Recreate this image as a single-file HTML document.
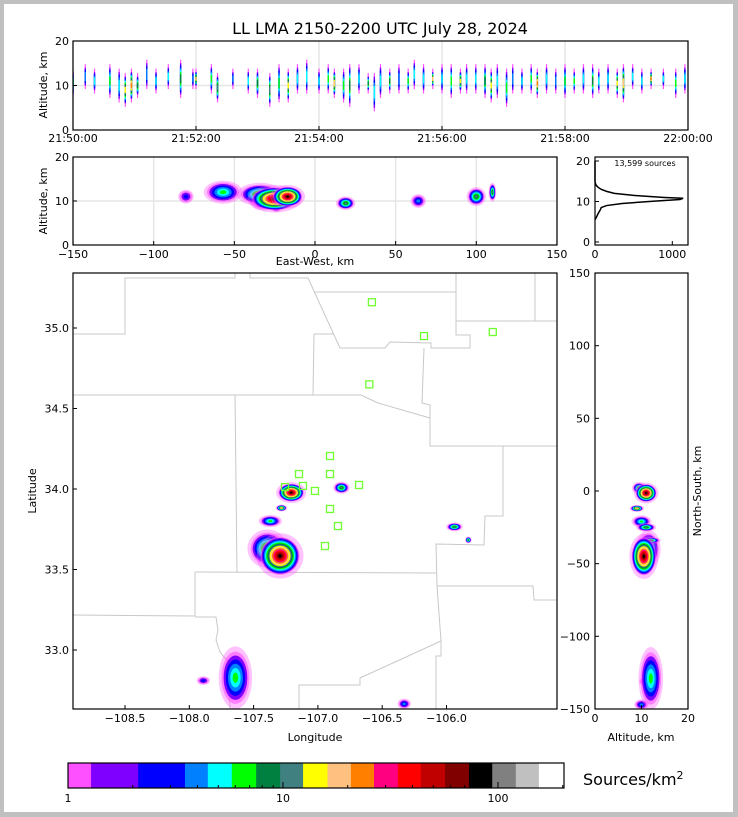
<!DOCTYPE html>
<html><head><meta charset="utf-8"><style>
html,body{margin:0;padding:0;background:#c0c0c0}
svg{display:block}
text{font-family:"DejaVu Sans","Liberation Sans",sans-serif;fill:#000}
</style></head><body>
<svg id="s" width="738" height="817" viewBox="0 0 738 817" xmlns="http://www.w3.org/2000/svg">
<rect x="4" y="4" width="729" height="808" fill="#fff"/>
<text x="380" y="34" font-size="16" text-anchor="middle">LL LMA 2150-2200 UTC July 28, 2024</text>
<g id="layer"></g>
</svg>
<script>
// ---- data ----
const levelColors=['#ff50ff','#8000ff','#0000ff','#0080ff','#00ffff','#00ff00','#008040','#408080','#ffff00','#ffc080','#ff8000','#ff0080','#ff0000','#c00000','#800000','#000000','#808080','#c0c0c0','#ffffff'];
const cbBounds=[1,1.28,2.12,3.5,4.47,5.78,7.5,9.7,12.4,16.1,20.7,26.5,34.2,43.7,56.7,73.3,94,121,155,202];
const cbTicks=[1,10,100];
// time streaks: minute after 21:50, alt low, alt high, peak level
const streakMin=[0.0,0.2,0.35,0.6,0.75,0.85,0.95,1.05,1.2,1.35,1.55,1.75,1.95,2.0,2.25,2.35,2.6,2.85,3.0,3.2,3.35,3.5,3.65,3.8,4.0,4.15,4.25,4.4,4.5,4.65,4.8,4.9,5.0,5.15,5.3,5.45,5.55,5.7,5.85,6.0,6.15,6.3,6.4,6.55,6.7,6.8,6.9,7.05,7.15,7.3,7.45,7.55,7.7,7.85,8.0,8.15,8.3,8.45,8.55,8.7,8.85,8.95,9.1,9.25,9.4,9.6,9.8,9.95];
const streakLo=[8,10,9,8,7,6,7,8,10,9,10,8,10,10,9,7,10,9,8,6,7,7,9,9,9,9,8,7,6,9,9,5,8,9,9,9,10,9,10,9,8,9,9,9,8,7,8,6,9,9,9,8,9,9,8,9,9,8,9,9,8,7,10,9,10,10,8,9];
const streakHi=[13,14,13,14,13,12,13,12,15,13,14,15,13,13,14,12,13,13,13,12,14,13,14,15,13,14,13,13,14,14,12,12,14,13,14,13,15,14,13,14,14,13,14,14,14,13,14,13,14,13,14,13,14,13,14,13,14,14,13,14,13,14,14,13,13,13,13,14];
const streakPeak=[5,3,4,5,4,8,10,6,3,4,4,6,3,9,5,7,3,4,6,7,5,8,4,4,4,5,9,5,6,4,6,4,4,6,3,5,4,4,9,4,5,8,4,4,6,8,4,5,3,4,5,10,4,3,5,5,4,6,4,4,8,9,4,4,10,4,5,4];
// storm cells (km from origin): east-west, north-south, altitude, half-sizes, peak level
const cellEW=[-57,-80,64,-34,-32,-24,19,100,110,-25,-17];
const cellNS=[-129,-131,-147,-40,-21,-12,2,-25,-34,-45,-1.4];
const cellAlt=[12,11,10,11.5,10,9,9.5,11,12,10.5,11];
const cellSEW=[10,4,4,12,7,3.5,5,5,2,14,9];
const cellSNS=[18,2.5,3,11,3.5,2,3.5,2.5,2,13,6];
const cellSAlt=[2.2,1.3,1.3,2.2,1.8,1.3,1.3,1.8,1.8,2.6,2.2];
const cellPeak=[5,2,3,7,5,10,7,7,7,15,15];
const originLon=-107.023, originLat=33.99;
// stations
const stnLon=[-106.58,-106.175,-105.64,-106.60,-106.906,-107.147,-106.906,-107.256,-107.116,-107.023,-106.68,-106.906,-106.844,-106.945];
const stnLat=[35.16,34.95,34.975,34.65,34.205,34.093,34.093,34.012,34.019,33.988,34.025,33.876,33.77,33.646];
// altitude histogram
const histAlt=[5.5,6,7,8,8.5,9,9.5,10,10.5,10.8,11,11.5,12,12.5,13,13.5,14,14.5,15,20];
const histCnt=[0,15,40,70,80,150,350,700,1100,1140,900,500,250,150,80,40,15,5,0,0];
const timeTicks=['21:50:00','21:52:00','21:54:00','21:56:00','21:58:00','22:00:00'];
const lonTicks=[-108.5,-108,-107.5,-107,-106.5,-106];
const latTicks=[33,33.5,34,34.5,35];

// ---- scales ----
const NS='http://www.w3.org/2000/svg';
const L=document.getElementById('layer');
function mk(tag,attrs,parent){const e=document.createElementNS(NS,tag);for(const k in attrs)e.setAttribute(k,attrs[k]);(parent||L).appendChild(e);return e;}
const tX=m=>73+m*61.5, tY=a=>130-a*4.45;
const ewX=k=>315+k*1.613, ewY=a=>245-a*4.4;
const lonX=l=>125+(l+108.5)*128.6, latY=p=>328-(p-35)*161;
const altX=a=>595+a*4.65, nsY=k=>491-k*1.453;
const hX=c=>595+c*0.0773, hY=a=>242-a*4.05;
const cbX=v=>68+Math.log10(v)*215;

function clip(id,x,y,w,h){let d=document.getElementById('defs')||mk('defs',{id:'defs'});const c=mk('clipPath',{id:id},d);mk('rect',{x:x,y:y,width:w,height:h},c);}
clip('c1',73,41,615,89);clip('c2',73,157,484,88);clip('c3',73,273,484,436);clip('c4',595,273,93,436);

function frame(x,y,w,h,name){const r=mk('rect',{x:x,y:y,width:w,height:h,fill:'none',stroke:'#000','stroke-width':1.2});}
function txt(x,y,s,anchor,size,name,rot){const t=mk('text',{x:x,y:y,'font-size':size||11,'text-anchor':anchor||'middle'});if(rot)t.setAttribute('transform','rotate('+rot+' '+x+' '+y+')');t.textContent=s;return t;}
function tick(x1,y1,x2,y2){mk('line',{x1:x1,y1:y1,x2:x2,y2:y2,stroke:'#000','stroke-width':1});}
function grid(x1,y1,x2,y2){mk('line',{x1:x1,y1:y1,x2:x2,y2:y2,stroke:'#e6e6e6','stroke-width':1.5});}

// ---- panel 1: time vs altitude ----
for(let i=0;i<timeTicks.length;i++){grid(tX(i*2),41,tX(i*2),130);}
grid(73,tY(10),688,tY(10));
const g1=mk('g',{'clip-path':'url(#c1)'});
for(let i=0;i<streakMin.length;i++){
  const lo=streakLo[i],hi=streakHi[i],p=streakPeak[i],mid=(lo+hi)/2,h=(hi-lo)/2;
  mk('rect',{x:tX(streakMin[i])-0.6,y:tY(hi+0.8),width:1.2,height:tY(lo-0.8)-tY(hi+0.8),fill:levelColors[0]},g1);
  for(let k=1;k<=p;k++){const hh=h*(1-(k-1)/(p+1));const r=mk('rect',{x:tX(streakMin[i])-0.7,y:tY(mid+hh),width:1.4,height:tY(mid-hh)-tY(mid+hh),fill:levelColors[k]},g1);}
}
frame(73,41,615,89,'time-altitude-plot-area');
for(let i=0;i<timeTicks.length;i++){tick(tX(i*2),130,tX(i*2),126);txt(tX(i*2),142,timeTicks[i],'middle',11,'time-tick-label');}
[0,10,20].forEach(a=>{tick(73,tY(a),77,tY(a));txt(69,tY(a)+4,String(a),'end',11,'altitude-tick-label');});
txt(47,85,'Altitude, km','middle',11,'y-axis-title-top','-90');

// ---- panel 2: east-west vs altitude ----
[-150,-100,-50,0,50,100,150].forEach(k=>grid(ewX(k),157,ewX(k),245));grid(73,ewY(10),557,ewY(10));
const g2=mk('g',{'clip-path':'url(#c2)'});
// ---- map ----
const g3=mk('g',{'clip-path':'url(#c3)'});
const counties=[
 [[73,334],[125,334],[125,278],[235,278],[235,273]],
 [[250,273],[250,278],[308,278],[340,348],[385,348],[390,342],[431,343],[431,348],[470,348],[470,335],[456,335],[456,321],[557,321]],
 [[315,292],[456,292]],[[456,273],[456,321]],[[535,273],[535,321]],
 [[313,395],[314,334],[333,334]],
 [[424,348],[422,403],[430,405],[430,446],[557,446]],
 [[73,395],[361,395],[378,403],[430,418]],
 [[235,395],[237,572]],[[195,572],[436,573]],
 [[503,446],[503,516],[485,516],[484,545],[436,544],[437,586],[533,586],[534,600],[557,600]],
 [[195,572],[195,616],[73,615]],[[195,617],[216,617],[218,630],[216,640],[220,652],[229,663],[230,709]],
 [[437,586],[441,641],[441,656],[436,656],[436,709]],
 [[441,641],[360,678],[360,685],[299,685],[299,709]]];
counties.forEach(c=>{const p=mk('polyline',{points:c.map(q=>q.join(',')).join(' '),fill:'none',stroke:'#c8c8c8','stroke-width':1},g3);});
// ---- right panel ----
const g4=mk('g',{'clip-path':'url(#c4)'});

const order=cellPeak.map((p,i)=>i).sort((a,b)=>cellPeak[a]-cellPeak[b]);
function blob(g,cx,cy,rx,ry,p){
  mk('ellipse',{cx:cx,cy:cy,rx:rx*1.2,ry:ry*1.2,fill:levelColors[0],opacity:0.35},g);
  for(let k=0;k<=p;k++){const f=Math.pow(1-k/(p+1),0.9);const e=mk('ellipse',{cx:cx,cy:cy,rx:rx*f,ry:ry*f,fill:levelColors[k],opacity:k===0?0.6:1},g);}
}
order.forEach(i=>{
  const lon=originLon+cellEW[i]/92.2, lat=originLat+cellNS[i]/111;
  blob(g2,ewX(cellEW[i]),ewY(cellAlt[i]),cellSEW[i]*1.613,cellSAlt[i]*4.4,cellPeak[i]);
  blob(g3,lonX(lon),latY(lat),cellSEW[i]*1.395,cellSNS[i]*1.453,cellPeak[i]);
  blob(g4,altX(cellAlt[i]),nsY(cellNS[i]),cellSAlt[i]*4.65,cellSNS[i]*1.453,cellPeak[i]);
});
for(let i=0;i<stnLon.length;i++){const r=mk('rect',{x:lonX(stnLon[i])-3.5,y:latY(stnLat[i])-3.5,width:7,height:7,fill:'none',stroke:'#70ff30','stroke-width':1.3},g3);}

frame(73,157,484,88,'ew-altitude-plot-area');
[-150,-100,-50,0,50,100,150].forEach(k=>{tick(ewX(k),245,ewX(k),241);txt(ewX(k),258,String(k).replace('-','−'),'middle',11,'ew-tick-label');});
[0,10,20].forEach(a=>{tick(73,ewY(a),77,ewY(a));txt(69,ewY(a)+4,String(a),'end',11,'altitude-tick-label');});
txt(47,201,'Altitude, km','middle',11,'y-axis-title-ew','-90');
txt(315,265,'East-West, km','middle',11,'x-axis-title-ew');

frame(73,273,484,436,'map-plot-area');
lonTicks.forEach(l=>{tick(lonX(l),709,lonX(l),705);txt(lonX(l),722,'−'+Math.abs(l).toFixed(1),'middle',11,'longitude-tick-label');});
latTicks.forEach(p=>{tick(73,latY(p),77,latY(p));txt(69,latY(p)+4,p.toFixed(1),'end',11,'latitude-tick-label');});
txt(36,491,'Latitude','middle',11,'y-axis-title-map','-90');
txt(315,741,'Longitude','middle',11,'x-axis-title-map');

frame(595,273,93,436,'ns-altitude-plot-area');
[0,10,20].forEach(a=>{tick(altX(a),709,altX(a),705);txt(altX(a),722,String(a),'middle',11,'altitude-tick-label');});
[150,100,50,0,-50,-100,-150].forEach(k=>{tick(595,nsY(k),599,nsY(k));txt(590,nsY(k)+4,String(k).replace('-','−'),'end',11,'ns-tick-label');});
txt(641,741,'Altitude, km','middle',11,'x-axis-title-ns');
txt(701,491,'North-South, km','middle',11,'y-axis-title-ns','-90');

// ---- histogram ----
frame(595,157,93,88,'altitude-histogram-area');
const hp=mk('polyline',{points:histAlt.map((a,i)=>hX(histCnt[i])+','+hY(a)).join(' '),fill:'none',stroke:'#000','stroke-width':1.5});

[0,10,20].forEach(a=>{tick(595,hY(a),599,hY(a));txt(590,hY(a)+4,String(a),'end',11,'hist-altitude-tick-label');});
[0,1000].forEach(c=>{tick(hX(c),245,hX(c),241);txt(hX(c),258,String(c),'middle',11,'hist-count-tick-label');});
txt(645,166,'13,599 sources','middle',8,'source-count-label');

// ---- colorbar ----
for(let i=0;i<cbBounds.length-1;i++){const r=mk('rect',{x:cbX(cbBounds[i]),y:763,width:cbX(cbBounds[i+1])-cbX(cbBounds[i])+0.5,height:25,fill:levelColors[i]});}
frame(68,763,496,25,'colorbar');
for(let d=1;d<=200;d*=10){for(let m=1;m<10;m++){const v=d*m;if(v>202)break;tick(cbX(v),788,cbX(v),m===1?782:785);}}
cbTicks.forEach(v=>txt(cbX(v),802,String(v),'middle',11,'colorbar-tick-label'));
const cl=txt(583,785,'Sources/km','start',16,'colorbar-title');const sup=mk('tspan',{'font-size':11,dy:-6},cl);sup.textContent='2';
</script>
</body></html>
